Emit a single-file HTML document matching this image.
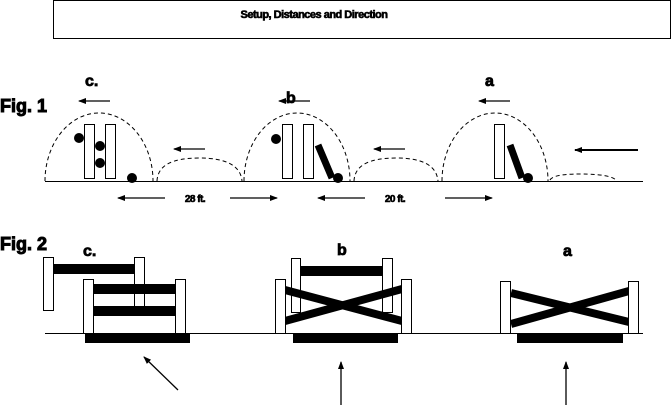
<!DOCTYPE html>
<html><head><style>html,body{margin:0;padding:0;background:#fff}svg{display:block}</style></head>
<body>
<svg width="672" height="405" viewBox="0 0 672 405" xmlns="http://www.w3.org/2000/svg" font-family="Liberation Sans, sans-serif" font-weight="bold">
<defs>
<marker id="ah" markerWidth="8" markerHeight="8" refX="7" refY="4" orient="auto" markerUnits="userSpaceOnUse"><path d="M0,1 L8,4 L0,7 Z" fill="#000"/></marker>
</defs>
<rect x="53.5" y="0.5" width="617" height="38" fill="#fff" stroke="#000"/>
<g stroke="#000" stroke-width="0.6">
<text x="314" y="18" font-size="11" text-anchor="middle" letter-spacing="-0.5">Setup, Distances and Direction</text>
<text x="0" y="112" font-size="18" stroke-width="1">Fig. 1</text>
<text x="85" y="86" font-size="16" stroke-width="0.8">c.</text>
<text x="286" y="103" font-size="16" stroke-width="0.8">b</text>
<text x="485" y="86" font-size="16" stroke-width="0.8">a</text>
<text x="195" y="202" font-size="10" text-anchor="middle" letter-spacing="-0.5">28 ft.</text>
<text x="395" y="202" font-size="10" text-anchor="middle" letter-spacing="-0.5">20 ft.</text>
<text x="0" y="250" font-size="18" stroke-width="1">Fig. 2</text>
<text x="83" y="256" font-size="16" stroke-width="0.8">c.</text>
<text x="337" y="255" font-size="16" stroke-width="0.8">b</text>
<text x="563" y="256" font-size="16" stroke-width="0.8">a</text>
</g>

<g fill="none" stroke="#000" stroke-dasharray="4,3">
<path d="M45,181 A54,68 0 0 1 153,181"/>
<path d="M157,181 Q158,158 199,158 Q240,158 242,181"/>
<path d="M244,181 A53,68 0 0 1 350,181"/>
<path d="M354,181 Q355,158 396,158 Q436,158 438,181"/>
<path d="M442,181 A53,68 0 0 1 548,181"/>
<path d="M550,180 Q553,174 580,174 Q610,174 616,180"/>
</g>
<line x1="45" y1="181.5" x2="643" y2="181.5" stroke="#000"/>

<g fill="#fff" stroke="#000">
<rect x="84.5" y="124.5" width="10" height="54"/>
<rect x="105.5" y="124.5" width="10" height="54"/>
<rect x="282.5" y="124.5" width="10" height="54"/>
<rect x="303.5" y="124.5" width="10" height="54"/>
<rect x="494.5" y="124.5" width="10" height="54"/>
</g>
<g fill="#000">
<circle cx="79" cy="138" r="5"/><circle cx="100" cy="146" r="5"/><circle cx="100" cy="163" r="5"/><circle cx="132" cy="178" r="5"/>
<circle cx="276" cy="139" r="5"/><circle cx="338" cy="178" r="5"/><circle cx="528" cy="178" r="5"/>
</g>
<g stroke="#000" stroke-width="7">
<line x1="318" y1="145" x2="332" y2="178"/>
<line x1="510" y1="145" x2="522" y2="178"/>
</g>

<g stroke="#000" stroke-width="1.3" marker-end="url(#ah)">
<line x1="110" y1="101" x2="79" y2="101"/>
<line x1="310" y1="101" x2="279" y2="101"/>
<line x1="510" y1="101" x2="479" y2="101"/>
<line x1="205" y1="149" x2="174" y2="149"/>
<line x1="405" y1="149" x2="374" y2="149"/>
<line x1="638" y1="150" x2="575" y2="150" stroke-width="2"/>
<line x1="165" y1="198" x2="118" y2="198"/>
<line x1="230" y1="198" x2="277" y2="198"/>
<line x1="365" y1="198" x2="318" y2="198"/>
<line x1="445" y1="198" x2="492" y2="198"/>
</g>

<line x1="45" y1="333.5" x2="643" y2="333.5" stroke="#000"/>

<!-- c -->
<rect x="53" y="264" width="81" height="10" fill="#000"/>
<rect x="43.5" y="257.5" width="10" height="53" fill="#fff" stroke="#000"/>
<rect x="134.5" y="257.5" width="10" height="53" fill="#fff" stroke="#000"/>
<rect x="94" y="284" width="81" height="10" fill="#000"/>
<rect x="94" y="306" width="81" height="10" fill="#000"/>
<rect x="83.5" y="279.5" width="10" height="54" fill="#fff" stroke="#000"/>
<rect x="175.5" y="279.5" width="10" height="54" fill="#fff" stroke="#000"/>
<rect x="85" y="334" width="105" height="9" fill="#000"/>
<line x1="178" y1="390" x2="144" y2="357" stroke="#000" stroke-width="1.3" marker-end="url(#ah)"/>

<!-- b -->
<rect x="300" y="266" width="82" height="10" fill="#000"/>
<rect x="291.5" y="258.5" width="9" height="54" fill="#fff" stroke="#000"/>
<rect x="382.5" y="258.5" width="10" height="54" fill="#fff" stroke="#000"/>
<g stroke="#000" stroke-width="8">
<line x1="285" y1="290" x2="402" y2="321"/>
<line x1="285" y1="321" x2="402" y2="289"/>
</g>
<rect x="275.5" y="279.5" width="10" height="54" fill="#fff" stroke="#000"/>
<rect x="401.5" y="279.5" width="10" height="54" fill="#fff" stroke="#000"/>
<rect x="293" y="334" width="105" height="9" fill="#000"/>
<line x1="341" y1="405" x2="341" y2="362" stroke="#000" stroke-width="1.3" marker-end="url(#ah)"/>

<!-- a -->
<g stroke="#000" stroke-width="8">
<line x1="511" y1="293" x2="629" y2="322"/>
<line x1="511" y1="324" x2="629" y2="291"/>
</g>
<rect x="500.5" y="281.5" width="10" height="52" fill="#fff" stroke="#000"/>
<rect x="628.5" y="281.5" width="10" height="52" fill="#fff" stroke="#000"/>
<rect x="517" y="334" width="106" height="9" fill="#000"/>
<line x1="566" y1="405" x2="566" y2="362" stroke="#000" stroke-width="1.3" marker-end="url(#ah)"/>
</svg>
</body></html>
